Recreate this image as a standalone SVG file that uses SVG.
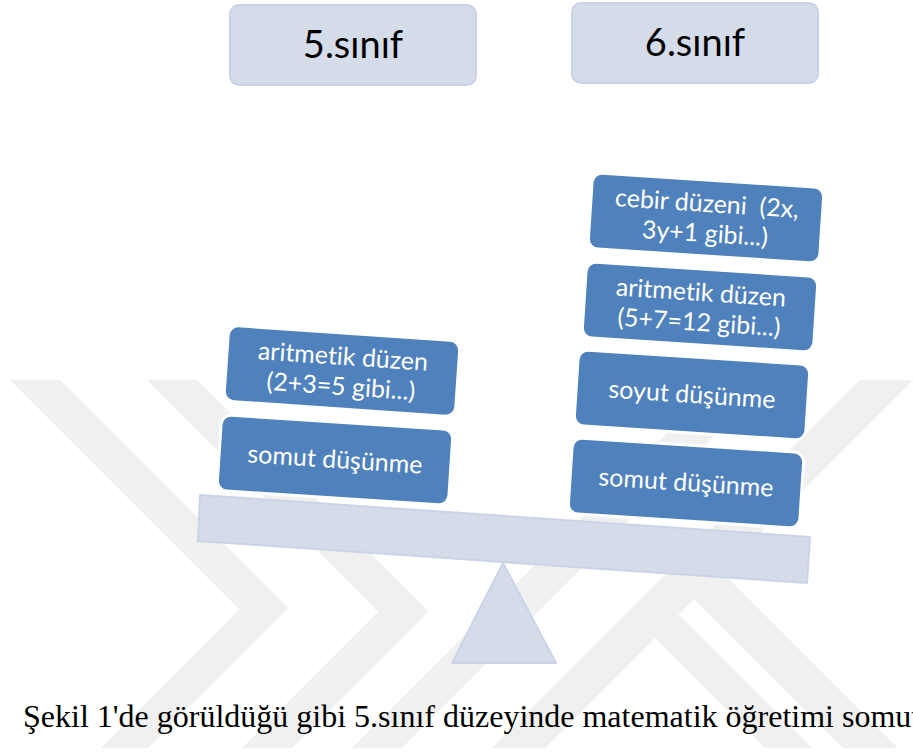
<svg xmlns="http://www.w3.org/2000/svg" width="913" height="756" viewBox="0 0 913 756">
<style>
.wm{fill:#f0f0f0}
.hdr{fill:#d4dcea;stroke:#cad3e5;stroke-width:2}
.hdrt{font-family:Lato,"Open Sans",sans-serif;font-size:38px;fill:#000;text-anchor:middle}
.blk{fill:#4f81bd;stroke:#fff;stroke-width:3}
.blkt{font-family:Lato,"Open Sans",sans-serif;font-size:25px;fill:#fff;text-anchor:middle;white-space:pre;font-variant-ligatures:none}
.lev{fill:#d4dcea;stroke:#cbd4e6;stroke-width:2;stroke-linejoin:round}
.cap{font-family:"Liberation Serif","Times New Roman",serif;font-size:32px;fill:#000}
</style>
<defs><clipPath id="wmclip"><rect x="0" y="380" width="913" height="368"/></clipPath></defs>
<rect width="913" height="756" fill="#fff"/>
<g id="watermark" clip-path="url(#wmclip)">
<polygon class="wm" points="10,380 60,380 288,608 140,756 93,756 239.5,609.5"/>
<polygon class="wm" points="147,380 197,380 428.5,611.5 284,756 234,756 378.5,611.5"/>
<polygon class="wm" points="720,380 770,380 394,756 344,756"/>
<polygon class="wm" points="860,380 913,380 537,756 484,756"/>
<polygon class="wm" points="721.5,571.5 906,756 851,756 694,599"/>
<polygon class="wm" points="678.5,614.5 820,756 773,756 655,638"/>
</g>
<g id="header5"><rect class="hdr" x="230" y="5" width="246" height="80" rx="9"/><text class="hdrt" x="353" y="58">5.sınıf</text></g>
<g id="header6"><rect class="hdr" x="572" y="3" width="246" height="80" rx="9"/><text class="hdrt" x="695" y="56">6.sınıf</text></g>
<g id="beam"><polygon class="lev" points="200,495 810,537 807,583 198,541"/></g>
<g id="fulcrum"><polygon class="lev" points="503,563 556,663 452,663"/></g>
<g id="l-aritmetik" transform="translate(342,371) rotate(3.9)"><rect class="blk" x="-116" y="-38" width="232" height="76" rx="10"/><text class="blkt"><tspan x="0" y="-6">aritmetik düzen</tspan><tspan x="0" y="24">(2+3=5 gibi...)</tspan></text></g>
<g id="l-somut" transform="translate(335,460) rotate(3.7)"><rect class="blk" x="-116" y="-38" width="232" height="76" rx="10"/><text class="blkt" x="0" y="8">somut düşünme</text></g>
<g id="r-cebir" transform="translate(706,218) rotate(3.7)"><rect class="blk" x="-116" y="-38" width="232" height="76" rx="10"/><text class="blkt" xml:space="preserve"><tspan x="0" y="-6">cebir düzeni  (2x,</tspan><tspan x="0" y="24">3y+1 gibi...)</tspan></text></g>
<g id="r-aritmetik" transform="translate(700,307) rotate(3.7)"><rect class="blk" x="-116" y="-38" width="232" height="76" rx="10"/><text class="blkt"><tspan x="0" y="-6">aritmetik düzen</tspan><tspan x="0" y="24">(5+7=12 gibi...)</tspan></text></g>
<g id="r-soyut" transform="translate(692,395) rotate(3.7)"><rect class="blk" x="-116" y="-38" width="232" height="76" rx="10"/><text class="blkt" x="0" y="8">soyut düşünme</text></g>
<g id="r-somut" transform="translate(686,483) rotate(3.7)"><rect class="blk" x="-116" y="-38" width="232" height="76" rx="10"/><text class="blkt" x="0" y="8">somut düşünme</text></g>
<g id="connectors"></g>
<text class="cap" x="23" y="727">Şekil 1'de görüldüğü gibi 5.sınıf düzeyinde matematik öğretimi somut</text>
</svg>
